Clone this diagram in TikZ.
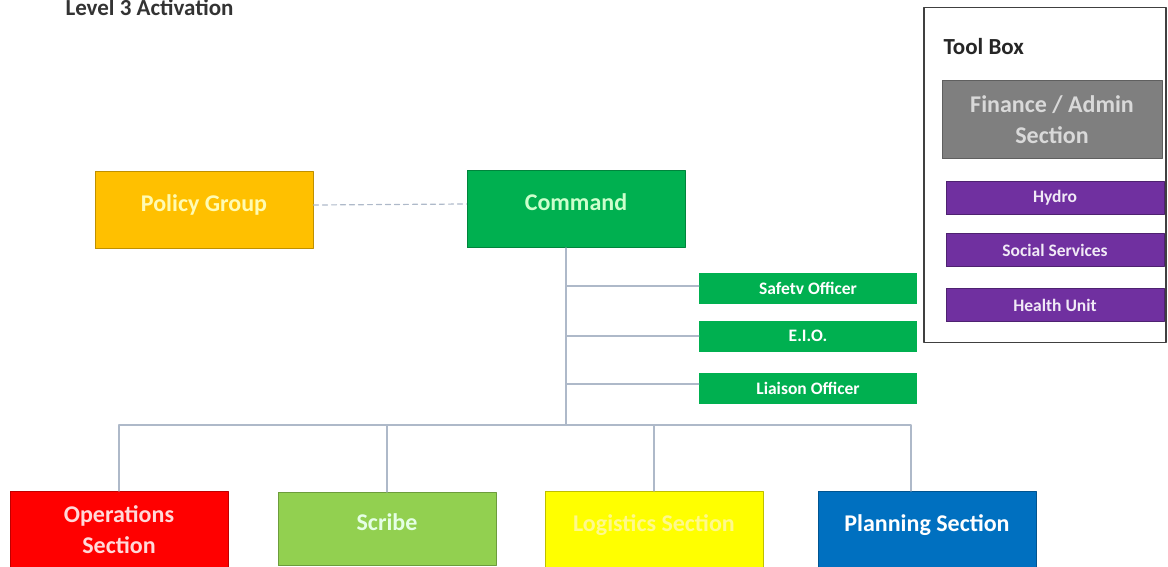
\documentclass[tikz,border=0pt]{standalone}
\usepackage{fontspec}
\setmainfont{Carlito}
\usetikzlibrary{positioning}

\definecolor{cmdgreen}{HTML}{00B050}
\definecolor{polyellow}{HTML}{FFC000}
\definecolor{opsred}{HTML}{FF0000}
\definecolor{scribegreen}{HTML}{92D050}
\definecolor{logyellow}{HTML}{FFFF00}
\definecolor{planblue}{HTML}{0070C0}
\definecolor{fingray}{HTML}{7F7F7F}
\definecolor{agencypurple}{HTML}{7030A0}
\definecolor{linkgray}{HTML}{AEB9C9}

\begin{document}
\begin{tikzpicture}[
			x=1pt, y=-1pt,
			every node/.style={font=\bfseries},
			bigbox/.style={draw=#1!75!black, fill=#1, line width=1pt, minimum width=218pt, minimum height=77pt, align=center, font=\fontsize{24}{31}\selectfont\bfseries},
			lifted/.style={text depth=14pt},
			officer/.style={fill=cmdgreen, minimum width=218pt, minimum height=31pt, text=white, font=\fontsize{17.5}{20}\selectfont\bfseries},
			agency/.style={fill=agencypurple, draw=agencypurple!70!black, minimum width=218pt, minimum height=33pt, text=white!90!agencypurple, font=\fontsize{17.5}{20}\selectfont\bfseries},
			link/.style={draw=linkgray, line width=1.2pt},
			line cap=round,
			line join=round
			]
			\useasboundingbox (0,0) rectangle (1168,567);
			
			% Title
			\node[anchor=west, text=black!80, font=\fontsize{23}{25}\selectfont\bfseries] (title) at (62,8) {Level 3 Activation};
			
			% Top level
			\node[bigbox=polyellow, lifted, text=yellow!30] (policy) at (204,210) {Policy Group};
			\node[bigbox=cmdgreen, lifted, text=green!20] (command) at (576,209) {Command};
			\draw[link, dashed, dash pattern=on 5pt off 4pt] ([yshift=5pt]policy.east) -- ([yshift=5pt]command.west);
			
			% Command staff
			\coordinate (trunk) at (566,248);
			\coordinate (bus) at (566,425);
			\node[officer] (safety) at (808,288) {Safetv Officer};
			\node[officer] (eio) at (808,336) {E.I.O.};
			\node[officer] (liaison) at (808,388) {Liaison Officer};
			\draw[link] (trunk) -- (bus);
			\draw[link] ([yshift=2pt]safety.west) -- ([yshift=2pt]safety.west -| trunk);
			\draw[link] (eio.west) -- (eio.west -| trunk);
			\draw[link] ([yshift=4pt]liaison.west) -- ([yshift=4pt]liaison.west -| trunk);
			
			% Sections
			\node[bigbox=opsred, text=red!15] (ops) at (119,530) {Operations\\Section};
			\node[bigbox=scribegreen, lifted, text=green!10, minimum height=73pt] (scribe) at (387,529) {Scribe};
			\node[bigbox=logyellow, lifted, text=yellow!45] (logistics) at (654,530) {Logistics Section};
			\node[bigbox=planblue, lifted, text=white] (planning) at (927,530) {Planning Section};
			\draw[link] (ops.north) |- (bus) -| ([xshift=-16pt]planning.north);
			\draw[link] (scribe.north |- bus) -- (scribe.north);
			\draw[link] (logistics.north |- bus) -- (logistics.north);
			
			% Tool box
			\node[draw=black!75, line width=1.3pt, minimum width=242pt, minimum height=335pt] (toolbox) at (1045,175) {};
			\node[anchor=west, text=black!85, font=\fontsize{23}{25}\selectfont\bfseries] (tbtitle) at (940,47) {Tool Box};
			\node[bigbox=fingray, text=black!15, minimum width=220pt, minimum height=78pt] (finance) at (1052,120) {Finance / Admin\\Section};
			\node[agency] (hydro) at (1055,198) {Hydro};
			\node[agency] (social) at (1055,250) {Social Services};
			\node[agency] (health) at (1055,305) {Health Unit};
		\end{tikzpicture}
\end{document}
